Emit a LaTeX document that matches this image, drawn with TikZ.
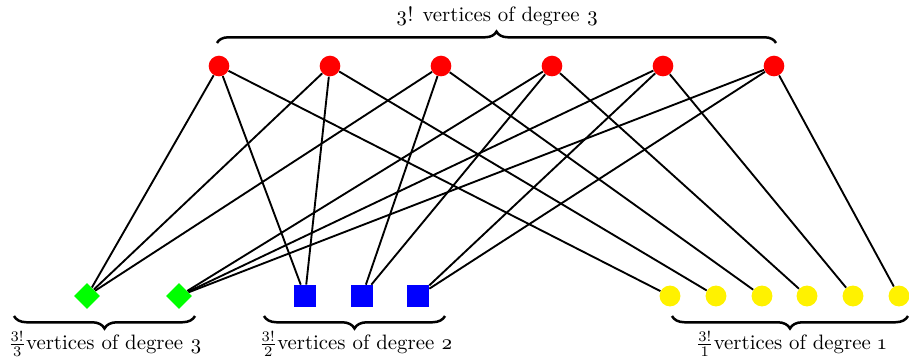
\documentclass[tikz,border=0pt]{standalone}
\usepackage{fontspec}
\setmainfont{Latin Modern Roman}
\usetikzlibrary{decorations.pathreplacing,shapes.geometric}
\begin{document}
\begin{tikzpicture}[x=0.48pt,y=-0.48pt,
  rednode/.style={circle,fill=red,minimum size=9.9pt,inner sep=0pt},
  yelnode/.style={circle,fill=yellow,minimum size=10pt,inner sep=0pt},
  bluenode/.style={rectangle,fill=blue,minimum size=10.5pt,inner sep=0pt},
  greennode/.style={diamond,aspect=1,fill=green,minimum size=12.5pt,inner sep=0pt},
  edge/.style={line width=0.9pt,black},
  bracestyle/.style={decorate,line width=1.2pt,decoration={brace,amplitude=5.5pt}},
  mbracestyle/.style={decorate,line width=1.2pt,decoration={brace,mirror,amplitude=6pt}}]
\useasboundingbox (0,0) rectangle (909,358);
% top vertices
\foreach \i/\x in {1/219,2/330,3/441,4/552,5/663,6/774}
  \node[rednode] (r\i) at (\x,66) {};
% yellow
\foreach \i/\x in {1/670,2/716,3/762,4/807,5/853,6/899}
  \node[yelnode] (y\i) at (\x,296) {};
% blue
\node[bluenode] (b1) at (305,296) {};
\node[bluenode] (b2) at (362,296) {};
\node[bluenode] (b3) at (418,296) {};
% green
\node[greennode] (g1) at (87,296) {};
\node[greennode] (g2) at (179,296) {};
% edges
\foreach \i in {1,2,3} \draw[edge] (r\i) -- (g1);
\foreach \i in {4,5,6} \draw[edge] (r\i) -- (g2);
\draw[edge] (r1) -- (b1);
\draw[edge] (r2) -- (b1);
\draw[edge] (r3) -- (b2);
\draw[edge] (r4) -- (b2);
\draw[edge] (r5) -- (b3);
\draw[edge] (r6) -- (b3);
\foreach \i in {1,...,6} \draw[edge] (r\i) -- (y\i);
% braces
\draw[bracestyle] (217,43) -- (776,43);
\node (t0) at (497,16) {\oldstylenums{3}! vertices of degree \oldstylenums{3}};
\draw[mbracestyle] (14,316) -- (195,316);
\node (t1) at (105,344) {$\frac{3!}{3}$vertices of degree \oldstylenums{3}};
\draw[mbracestyle] (264,316) -- (445,316);
\node (t2) at (356,344) {$\frac{3!}{2}$vertices of degree \oldstylenums{2}};
\draw[mbracestyle] (672,316) -- (908,316);
\node (t3) at (791,344) {$\frac{3!}{1}$vertices of degree \oldstylenums{1}};
\end{tikzpicture}
\end{document}
